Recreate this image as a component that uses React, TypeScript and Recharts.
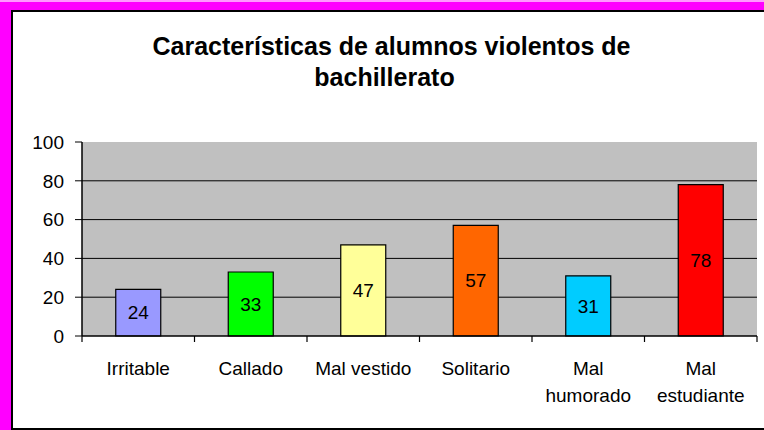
import React from "react";
import {
  BarChart,
  Bar,
  XAxis,
  YAxis,
  CartesianGrid,
  Cell,
  LabelList,
} from "recharts";

const categories = [
  "Irritable",
  "Callado",
  "Mal vestido",
  "Solitario",
  "Mal\nhumorado",
  "Mal\nestudiante",
];
const values = [24, 33, 47, 57, 31, 78];
const colors = ["#9999FF", "#00FF00", "#FFFF99", "#FF6600", "#00CCFF", "#FF0000"];
const yTicks = [0, 20, 40, 60, 80, 100];
const titleLines = ["Características de alumnos violentos de", "bachillerato"];

const data = categories.map((c, i) => ({ name: c, value: values[i] }));

const FONT = "'Liberation Sans', Arial, sans-serif";

const CategoryTick = (props: any) => {
  const { x, y, payload, index, visibleTicksCount, width } = props;
  const lines = String(payload.value).split("\n");
  let half = payload && typeof payload.offset === "number" ? payload.offset : 0;
  if (!half && width && visibleTicksCount) half = width / visibleTicksCount / 2;
  const last = index === visibleTicksCount - 1;
  return (
    <g>
      <line x1={x - half} x2={x - half} y1={y} y2={y + 6} stroke="#000" strokeWidth={1.2} />
      {last && <line x1={x + half} x2={x + half} y1={y} y2={y + 6} stroke="#000" strokeWidth={1.2} />}
      <text x={x} y={y} textAnchor="middle" fontFamily={FONT} fontSize={19} fill="#000">
        {lines.map((l, i) => (
          <tspan key={i} x={x} y={y + 39 + i * 27}>
            {l}
          </tspan>
        ))}
      </text>
    </g>
  );
};

const titleStyle: React.CSSProperties = {
  position: "absolute",
  width: 700,
  textAlign: "center",
  fontWeight: "bold",
  fontSize: 25,
  lineHeight: "31px",
  color: "#000",
  whiteSpace: "nowrap",
};

export default function App() {
  return (
    <div
      style={{
        position: "absolute",
        left: 0,
        top: 0,
        width: 764,
        height: 430,
        background: "#FF00FF",
        overflow: "hidden",
        fontFamily: FONT,
      }}
    >
      <div style={{ position: "absolute", left: 0, top: 0, width: 764, height: 2, background: "#FF99FF" }} />
      <div
        style={{
          position: "absolute",
          left: 11,
          top: 10,
          width: 780,
          height: 416,
          background: "#FFFFFF",
          borderLeft: "2px solid #000",
          borderTop: "2px solid #000",
          borderBottom: "2px solid #000",
        }}
      />
      <div style={{ ...titleStyle, left: 391.5 - 350, top: 31 }}>{titleLines[0]}</div>
      <div style={{ ...titleStyle, left: 384.5 - 350, top: 62 }}>{titleLines[1]}</div>
      <div style={{ position: "absolute", left: 0, top: 0 }}>
        <BarChart
          width={764}
          height={430}
          data={data}
          margin={{ top: 142, right: 7, bottom: 0, left: 0 }}
          barCategoryGap="30%"
        >
          <CartesianGrid
            fill="#C0C0C0"
            fillOpacity={1}
            stroke="#000"
            vertical={false}
            horizontalValues={[20, 40, 60, 80]}
          />
          <XAxis
            dataKey="name"
            height={94}
            tickLine={false}
            tickSize={0}
            tickMargin={0}
            interval={0}
            axisLine={{ stroke: "#000", strokeWidth: 1.5 }}
            tick={<CategoryTick />}
          />
          <XAxis
            xAxisId="top"
            orientation="top"
            dataKey="name"
            height={0}
            tick={false}
            tickLine={false}
            axisLine={{ stroke: "#808080", strokeWidth: 2 }}
          />
          <YAxis
            width={82}
            domain={[0, 100]}
            ticks={yTicks}
            interval={0}
            tickSize={7}
            tickMargin={11}
            axisLine={{ stroke: "#000", strokeWidth: 1.5 }}
            tickLine={{ stroke: "#000" }}
            tick={{ fill: "#000", fontSize: 19, fontFamily: FONT }}
          />
          <YAxis
            yAxisId="right"
            orientation="right"
            width={0}
            domain={[0, 100]}
            tick={false}
            tickLine={false}
            axisLine={{ stroke: "#808080", strokeWidth: 2 }}
          />
          <Bar dataKey="value" stroke="#000" strokeWidth={1.2} isAnimationActive={false}>
            {data.map((d, i) => (
              <Cell key={d.name} fill={colors[i]} />
            ))}
            <LabelList
              dataKey="value"
              position="center"
              fill="#000"
              fontSize={19}
              fontFamily={FONT}
            />
          </Bar>
        </BarChart>
      </div>
    </div>
  );
}
